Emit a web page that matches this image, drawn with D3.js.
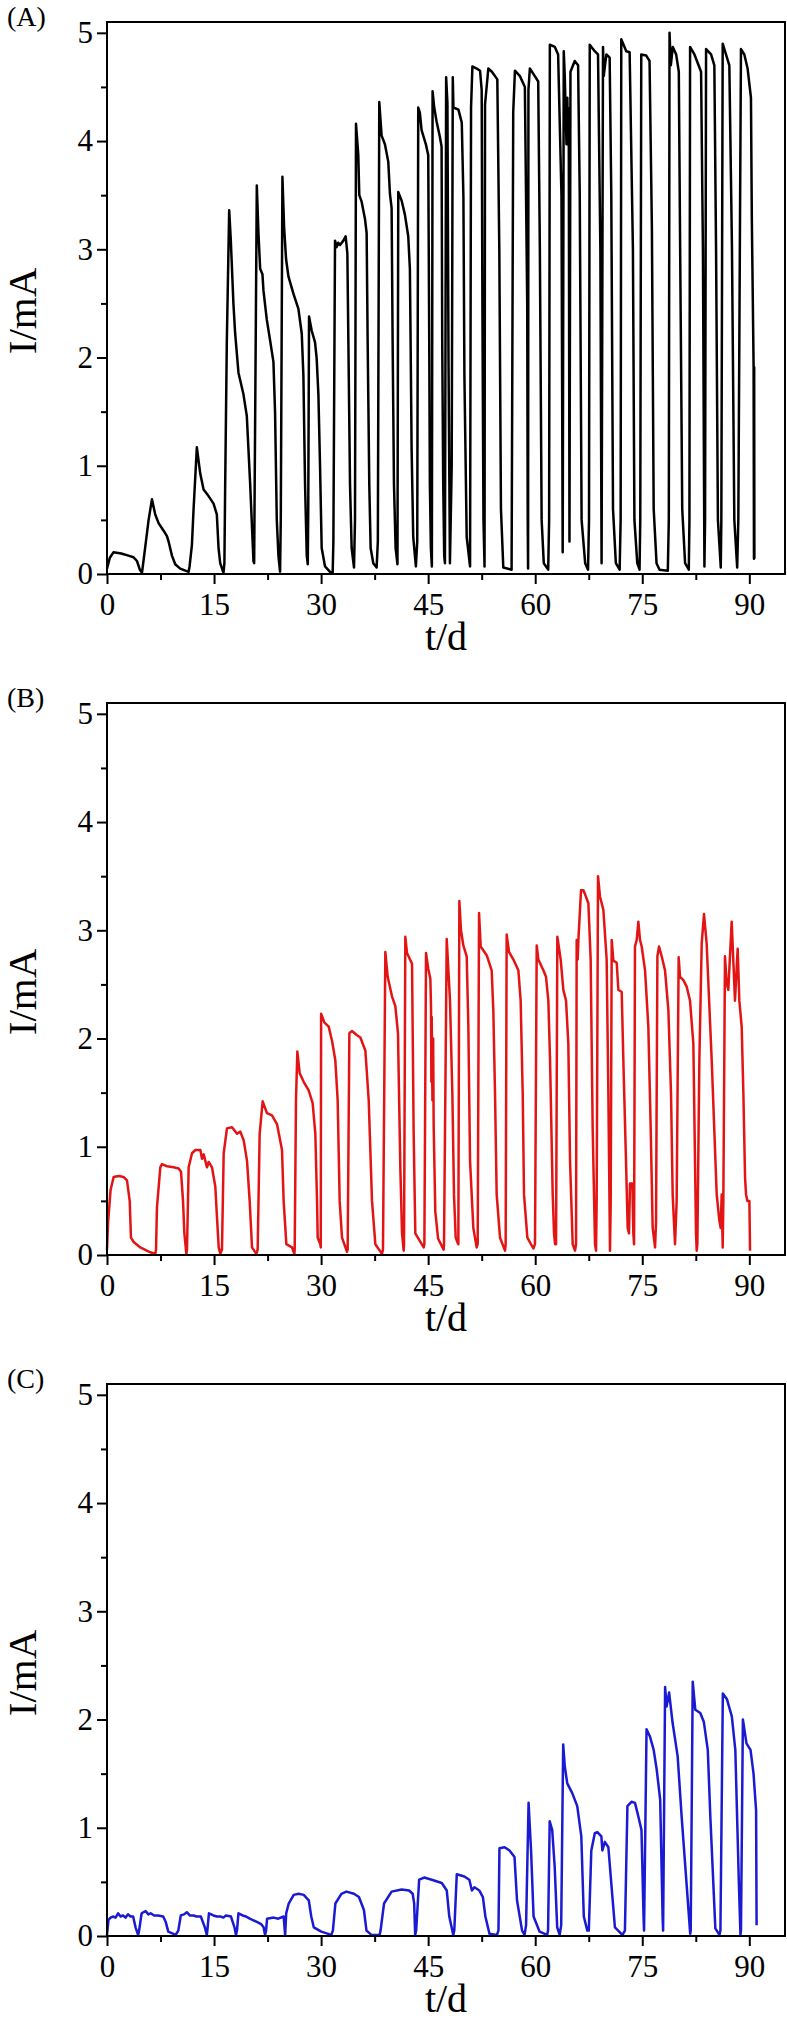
<!DOCTYPE html>
<html>
<head>
<meta charset="utf-8">
<script src="https://cdn.jsdelivr.net/npm/d3@7"></script>
<style>
body { margin: 0; background: #fff; }
</style>
</head>
<body>
<div class="board"></div>
<script>
// labels, colours and ticks
var panelNames = ['(A)', '(B)', '(C)'];
var lineColors = ['#000000', '#e31414', '#1a1ad2'];
var xTicks = [0, 15, 30, 45, 60, 75, 90];
var xMinor = [7.5, 22.5, 37.5, 52.5, 67.5, 82.5];
var yTicks = [0, 1, 2, 3, 4, 5];
var yMinor = [0.5, 1.5, 2.5, 3.5, 4.5];

// current vs time: [t (d), I (mA)]
var pointsA = [
  [0,0.05],[0.4,0.15],[0.9,0.2],[2,0.19],[3,0.17],[3.7,0.155],[4.2,0.12],[4.6,0.04],[4.9,0.01],
  [5.36,0.25],[5.83,0.5],[6.3,0.69],[6.76,0.55],[7.23,0.47],[7.93,0.4],[8.4,0.35],[8.63,0.3],[9.1,0.17],[9.56,0.09],[10.26,0.05],[11.43,0.02],
  [11.57,0.07],[11.9,0.27],[12.13,0.6],[12.59,1.17],[13.06,0.93],[13.53,0.78],[14.23,0.72],[14.93,0.65],[15.39,0.55],[15.63,0.24],[15.86,0.1],[16.32,0.01],
  [16.45,0.1],[16.56,0.83],[16.79,2.15],[17.12,3.36],[17.35,3.08],[17.72,2.49],[17.96,2.22],[18.42,1.86],[19.12,1.66],[19.59,1.46],[20.06,0.83],[20.52,0.12],[20.62,0.1],
  [20.66,0.5],[20.99,3.59],[21.22,3.15],[21.46,2.82],[21.78,2.77],[21.92,2.62],[22.39,2.35],[22.85,2.16],[23.32,1.96],[23.55,1.49],[23.79,0.5],[24.02,0.17],[24.25,0.02],
  [24.35,0.5],[24.58,3.67],[24.81,3.21],[25.09,2.91],[25.42,2.75],[26.12,2.59],[26.82,2.45],[27.29,2.22],[27.52,1.83],[27.75,0.83],[27.99,0.17],[28.13,0.09],
  [28.2,0.6],[28.31,2.38],[28.68,2.25],[29.15,2.14],[29.38,1.99],[29.62,1.66],[29.85,1.0],[30.08,0.24],[30.55,0.07],[31.25,0.02],[31.62,0.01],
  [31.72,0.3],[31.95,3.08],[32.18,3.02],[32.4,3.06],[32.65,3.04],[33.12,3.08],[33.44,3.12],[33.68,2.96],[33.82,2.15],[34.05,0.83],[34.28,0.24],[34.61,0.06],
  [34.75,0.5],[34.89,4.16],[35.21,3.87],[35.35,3.5],[35.68,3.44],[36.15,3.28],[36.38,3.15],[36.52,2.16],[36.75,0.83],[36.94,0.24],[37.31,0.1],[37.78,0.06],
  [37.95,0.3],[38.15,4.36],[38.48,4.05],[38.94,3.97],[39.41,3.81],[39.65,3.51],[39.88,3.38],[40.02,2.16],[40.21,0.83],[40.44,0.24],[40.7,0.09],
  [40.81,3.53],[41.28,3.45],[41.74,3.32],[42.21,3.12],[42.44,2.82],[42.54,2.16],[42.68,1.16],[42.91,0.34],[43.28,0.07],
  [43.47,0.3],[43.61,4.31],[43.84,4.26],[44.08,4.1],[44.68,3.97],[45.01,3.87],[45.15,2.16],[45.24,0.83],[45.38,0.24],[45.52,0.07],
  [45.62,4.46],[45.85,4.31],[46.18,4.18],[46.64,4.04],[46.88,3.95],[46.97,2.16],[47.11,0.83],[47.25,0.17],
  [47.35,0.1],[47.52,4.59],[47.7,4.35],[47.85,2.0],[48.05,0.1],
  [48.3,1.0],[48.45,4.59],[48.54,4.31],[49.24,4.29],[49.71,4.17],[49.94,3.48],[50.08,1.83],[50.4,0.34],[50.87,0.07],
  [51.01,4.31],[51.2,4.69],[51.8,4.67],[52.27,4.65],[52.5,4.47],[52.6,2.5],[52.75,0.5],[52.9,0.07],
  [52.97,4.34],[53.43,4.67],[53.93,4.64],[54.69,4.57],[54.97,3.0],[55.2,0.6],[55.53,0.06],[56.69,0.04],
  [56.92,4.27],[57.16,4.65],[57.86,4.6],[58.55,4.5],[58.88,2.5],[58.95,0.5],[59.0,0.05],
  [59.05,4.47],[59.25,4.67],[59.95,4.6],[60.42,4.55],[60.65,3.0],[60.9,0.5],[61.2,0.1],[61.82,0.04],
  [61.95,0.5],[62.05,4.89],[62.75,4.87],[63.21,4.8],[63.68,3.5],[63.85,0.2],
  [64.0,4.83],[64.14,4.6],[64.38,3.97],[64.5,4.4],[64.6,3.97],[64.7,4.3],[64.8,0.3],
  [64.94,4.64],[65.54,4.74],[66.01,4.7],[66.24,3.5],[66.5,0.5],[67.0,0.1],[67.4,0.04],
  [67.54,0.5],[67.64,4.89],[68.34,4.83],[68.8,4.8],[69.13,3.0],[69.3,0.1],
  [69.5,4.87],[69.6,4.6],[69.97,4.8],[70.43,4.77],[70.66,3.5],[70.9,0.6],[71.3,0.1],[71.83,0.04],
  [71.97,0.5],[72.06,4.94],[72.76,4.83],[73.23,4.82],[73.69,3.0],[73.9,0.5],[74.3,0.1],[74.62,0.04],
  [74.72,0.5],[74.86,4.8],[75.56,4.79],[76.02,4.74],[76.35,3.2],[76.6,0.6],[77.0,0.1],[77.42,0.04],[78.58,0.03],
  [78.72,0.5],[78.82,5.0],[79.0,4.7],[79.28,4.87],[79.75,4.8],[80.12,4.64],[80.31,3.0],[80.6,0.6],[81.0,0.1],[81.52,0.04],
  [81.61,0.5],[81.7,4.87],[82.31,4.8],[83.24,4.64],[83.5,3.0],[83.71,0.07],
  [83.8,0.5],[83.94,4.85],[84.64,4.8],[85.1,4.7],[85.34,3.0],[85.6,0.5],[86.0,0.06],
  [86.08,0.5],[86.27,4.9],[86.73,4.8],[87.2,4.7],[87.57,3.0],[87.9,0.5],[88.3,0.06],
  [88.46,0.5],[88.83,4.85],[89.3,4.8],[89.76,4.67],[90.23,4.4],[90.35,3.3],[90.6,1.91],[90.65,0.14],[90.68,1.91],[90.71,0.14]
];

var pointsB = [
  [0,0.05],[0.15,0.3],[0.5,0.6],[0.93,0.72],[1.63,0.73],[2.34,0.72],[2.8,0.69],[3.18,0.5],[3.36,0.16],[3.74,0.12],[4.67,0.07],[6.07,0.025],[6.77,0.01],
  [6.87,0.05],[7.0,0.44],[7.47,0.81],[7.71,0.84],[8.41,0.82],[9.34,0.81],[10.04,0.8],[10.37,0.77],[10.65,0.5],[10.84,0.2],[11.12,0.01],
  [11.21,0.05],[11.44,0.81],[11.91,0.94],[12.38,0.97],[13.08,0.97],[13.31,0.89],[13.55,0.93],[14.01,0.81],[14.25,0.86],[14.71,0.81],[15.18,0.63],[15.41,0.35],[15.65,0.07],[15.88,0.01],
  [16.11,0.05],[16.35,0.94],[16.81,1.17],[17.52,1.18],[18.22,1.12],[18.68,1.14],[19.15,1.06],[19.62,0.87],[19.99,0.5],[20.32,0.07],[20.92,0.01],
  [21.11,0.05],[21.39,1.12],[21.81,1.42],[22.42,1.31],[23.12,1.29],[23.82,1.21],[24.52,0.97],[24.75,0.5],[25.13,0.1],[25.92,0.07],[26.25,0.01],
  [26.3,0.05],[26.48,1.43],[26.67,1.88],[27.0,1.68],[27.56,1.6],[28.26,1.52],[28.82,1.4],[29.19,1.12],[29.43,0.5],[29.52,0.16],[29.89,0.1],[29.95,0.07],
  [30.0,2.23],[30.45,2.15],[31.06,2.11],[31.53,1.98],[31.99,1.8],[32.32,1.43],[32.6,0.5],[32.93,0.16],[33.63,0.03],
  [33.72,0.05],[33.96,2.05],[34.33,2.07],[35.03,2.03],[35.5,2.01],[36.2,1.89],[36.67,1.43],[37.13,0.5],[37.6,0.1],[38.53,0.01],
  [38.67,0.05],[39.0,2.8],[39.33,2.57],[39.93,2.39],[40.4,2.3],[40.77,2.05],[41.1,0.81],[41.34,0.2],[41.57,0.04],
  [41.62,0.1],[41.8,2.94],[42.04,2.79],[42.74,2.69],[42.97,1.12],[43.2,0.2],[44.37,0.07],
  [44.47,0.1],[44.7,2.79],[45.0,2.65],[45.31,2.55],[45.4,2.29],[45.45,1.6],[45.5,2.2],[45.6,1.43],[45.7,2.0],[45.77,1.2],[46.0,0.4],[46.4,0.15],[47.17,0.05],
  [47.22,0.1],[47.6,2.92],[48.06,2.35],[48.39,1.49],[48.62,0.56],[48.86,0.16],[49.2,0.1],
  [49.23,0.1],[49.37,3.27],[49.6,3.0],[49.93,2.86],[50.4,2.76],[50.63,2.12],[50.87,0.87],[51.33,0.25],[51.8,0.07],
  [51.94,0.1],[52.13,3.16],[52.36,2.85],[53.2,2.77],[53.9,2.63],[54.13,2.26],[54.37,1.49],[54.6,0.56],[55.07,0.16],[55.77,0.04],
  [55.86,0.1],[56.0,2.96],[56.33,2.8],[56.94,2.73],[57.64,2.63],[57.96,2.35],[58.25,1.49],[58.43,0.56],[58.9,0.16],[59.74,0.06],
  [59.97,0.1],[60.21,2.86],[60.44,2.73],[61.14,2.63],[61.51,2.57],[61.84,2.35],[62.08,1.8],[62.45,0.56],[62.64,0.2],[62.78,0.1],
  [62.92,0.1],[63.1,2.94],[63.57,2.73],[63.94,2.45],[64.32,2.35],[64.64,1.95],[64.88,0.87],[65.25,0.1],[65.58,0.04],
  [65.72,0.1],[65.81,2.91],[65.95,2.73],[66.05,2.91],[66.42,3.37],[66.75,3.37],[67.0,3.33],[67.45,3.25],[67.77,2.73],[68.05,1.18],[68.38,0.1],[68.52,0.04],
  [68.61,0.5],[68.8,3.5],[69.08,3.31],[69.55,3.19],[70.01,2.73],[70.25,1.49],[70.48,0.04],
  [70.58,0.5],[70.72,2.91],[70.95,2.72],[71.42,2.7],[71.65,2.45],[72.12,2.43],[72.35,1.8],[72.72,0.87],[72.96,0.25],[73.14,0.2],[73.28,0.66],[73.61,0.66],[73.75,0.2],[73.85,0.1],
  [73.98,2.85],[74.22,2.91],[74.45,3.08],[74.69,2.91],[74.92,2.85],[75.39,2.63],[75.85,2.11],[76.18,1.18],[76.46,0.25],[76.79,0.07],
  [76.93,0.3],[77.12,2.76],[77.35,2.85],[77.72,2.76],[78.19,2.63],[78.66,2.26],[79.03,1.49],[79.26,0.56],[79.59,0.1],
  [79.82,0.5],[80.1,2.75],[80.29,2.57],[80.76,2.54],[81.22,2.48],[81.69,2.35],[82.16,1.95],[82.39,0.87],[82.53,0.2],[82.63,0.04],
  [82.72,0.1],[83.0,1.8],[83.33,2.88],[83.65,3.15],[84.02,2.88],[84.73,1.8],[85.43,0.56],[85.8,0.32],[85.99,0.25],[86.13,0.56],[86.27,0.07],
  [86.36,0.5],[86.59,2.76],[86.83,2.51],[87.06,2.45],[87.29,2.76],[87.53,3.08],[87.99,2.35],[88.37,2.83],[88.6,2.35],[88.93,2.11],[89.17,1.49],[89.4,0.72],[89.54,0.56],[89.73,0.5],[90.01,0.5],[90.1,0.04]
];

var pointsC = [
  [0,0.01],[0.21,0.15],[0.5,0.17],[0.84,0.18],[1.2,0.17],[1.55,0.21],[1.9,0.18],[2.25,0.19],[2.6,0.17],[2.95,0.2],[3.3,0.18],[3.66,0.18],[4.0,0.08],[4.36,0.01],
  [4.5,0.05],[4.85,0.21],[5.41,0.23],[5.8,0.2],[6.12,0.21],[6.6,0.19],[7.17,0.19],[7.88,0.18],[8.23,0.13],[8.58,0.04],[9.63,0.01],
  [9.99,0.05],[10.34,0.19],[10.8,0.2],[11.18,0.22],[11.6,0.19],[12.1,0.19],[12.6,0.18],[13.15,0.18],[13.71,0.08],[13.99,0.01],
  [14.06,0.05],[14.28,0.21],[14.91,0.19],[15.4,0.18],[15.96,0.18],[16.3,0.17],[16.67,0.19],[17.37,0.18],[17.86,0.08],[18.07,0.01],
  [18.21,0.05],[18.42,0.21],[19.0,0.19],[19.48,0.18],[20.0,0.16],[20.53,0.145],[21.0,0.13],[21.59,0.11],[21.94,0.08],[22.15,0.01],
  [22.29,0.05],[22.43,0.16],[23.35,0.17],[24.0,0.16],[24.75,0.18],[24.96,0.01],
  [25.11,0.21],[25.46,0.3],[26.16,0.38],[26.86,0.39],[27.57,0.38],[28.27,0.33],[28.62,0.18],[28.97,0.08],[30.03,0.04],[31.43,0.01],
  [31.65,0.05],[32.0,0.3],[32.84,0.39],[33.54,0.41],[34.6,0.39],[35.3,0.36],[36.0,0.24],[36.36,0.05],[37.06,0.01],[38.2,0.01],
  [38.33,0.05],[38.82,0.3],[39.87,0.41],[41.28,0.43],[42.33,0.42],[42.83,0.39],[43.04,0.3],[43.18,0.01],
  [43.32,0.05],[43.74,0.52],[44.44,0.54],[45.5,0.52],[46.91,0.49],[47.61,0.42],[47.96,0.18],[48.52,0.01],
  [48.66,0.05],[49.01,0.57],[50.07,0.55],[50.77,0.52],[51.13,0.42],[51.48,0.45],[52.18,0.42],[52.67,0.36],[53.02,0.18],[53.59,0.02],[54.64,0.01],
  [54.85,0.05],[54.99,0.81],[55.7,0.82],[56.4,0.79],[57.1,0.73],[57.45,0.33],[58.16,0.05],[58.51,0.01],
  [58.72,0.1],[59.07,1.23],[59.42,0.79],[59.77,0.18],[60.62,0.04],[61.67,0.01],
  [61.8,0.05],[62.03,1.06],[62.38,0.98],[62.73,0.64],[63.08,0.08],[63.43,0.01],
  [63.64,0.1],[63.92,1.77],[64.14,1.57],[64.49,1.41],[65.19,1.32],[65.89,1.2],[66.46,0.92],[66.81,0.18],[67.3,0.05],
  [67.51,0.05],[67.86,0.79],[68.35,0.95],[68.71,0.96],[69.27,0.92],[69.41,0.79],[69.76,0.87],[70.25,0.82],[70.67,0.48],[71.17,0.08],[72.22,0.01],
  [72.57,0.05],[72.92,1.2],[73.49,1.24],[73.98,1.23],[74.47,1.1],[74.89,0.98],[75.18,0.18],
  [75.25,0.05],[75.6,1.91],[76.09,1.84],[76.6,1.72],[77.02,1.54],[77.51,1.26],[77.85,0.18],
  [77.92,0.05],[78.2,2.3],[78.41,2.12],[78.76,2.25],[79.25,1.97],[79.96,1.66],[80.52,1.1],[81.72,0.02],
  [81.79,0.05],[82.07,2.35],[82.43,2.09],[83.13,2.06],[83.62,1.98],[84.18,1.72],[84.54,1.1],[85.24,0.07],[85.81,0.01],
  [85.95,0.05],[86.29,2.24],[86.85,2.19],[87.55,2.03],[88.04,1.72],[88.54,0.48],[88.76,0.01],
  [88.83,0.05],[89.1,2.0],[89.6,1.78],[90.17,1.72],[90.59,1.5],[90.95,1.16],[91.02,0.1]
];

var allPoints = [pointsA, pointsB, pointsC];

var font = "'Liberation Serif', 'Times New Roman', serif";

// the page
var svg = d3.select('.board')
  .append('svg')
  .attr('width', 787)
  .attr('height', 2020)
  .style('background-color', '#fff');

var x = d3.scaleLinear().domain([0, 95]).range([107, 785]);

// panel frame tops, each frame is the same height
var tops = [22, 703, 1384];
var frameH = 552;

var drawPanel = function(points, i) {
  var top = tops[i];
  var bottom = top + frameH;
  var y = d3.scaleLinear().domain([0, 5.1]).range([bottom, top]);
  var g = svg.append('g');

  // minor ticks first
  g.append('g')
    .attr('transform', 'translate(0,' + bottom + ')')
    .call(d3.axisBottom(x).tickValues(xMinor).tickSize(6).tickSizeOuter(0).tickFormat(''))
    .call(function(a) { a.select('.domain').remove(); });

  g.append('g')
    .attr('transform', 'translate(107,0)')
    .call(d3.axisLeft(y).tickValues(yMinor).tickSize(6).tickSizeOuter(0).tickFormat(''))
    .call(function(a) { a.select('.domain').remove(); });

  // major ticks with labels
  g.append('g')
    .attr('transform', 'translate(0,' + bottom + ')')
    .call(d3.axisBottom(x).tickValues(xTicks).tickSize(10).tickSizeOuter(0).tickPadding(9).tickFormat(d3.format('d')))
    .call(function(a) { a.select('.domain').remove(); });

  g.append('g')
    .attr('transform', 'translate(107,0)')
    .call(d3.axisLeft(y).tickValues(yTicks).tickSize(10).tickSizeOuter(0).tickPadding(4).tickFormat(d3.format('d')))
    .call(function(a) { a.select('.domain').remove(); });

  g.selectAll('.tick line').attr('stroke', '#000').attr('stroke-width', 2);
  g.selectAll('.tick text')
    .attr('font-family', font)
    .attr('font-size', 31)
    .attr('fill', '#000');

  // the curve
  var line = d3.line()
    .x(function(d) { return x(d[0]); })
    .y(function(d) { return y(d[1]); });

  g.append('path')
    .datum(points)
    .attr('d', line)
    .attr('fill', 'none')
    .attr('stroke', lineColors[i])
    .attr('stroke-width', 2.5)
    .attr('stroke-linejoin', 'round');

  // frame
  g.append('rect')
    .attr('x', x(0))
    .attr('y', top)
    .attr('width', x(95) - x(0))
    .attr('height', frameH)
    .attr('fill', 'none')
    .attr('stroke', '#000')
    .attr('stroke-width', 2);

  // axis titles and panel name
  g.append('text')
    .attr('transform', 'translate(36,' + (top + frameH / 2 + 13) + ') rotate(-90)')
    .attr('text-anchor', 'middle')
    .attr('font-family', font)
    .attr('font-size', 41)
    .text('I/mA');

  g.append('text')
    .attr('x', (x(0) + x(95)) / 2)
    .attr('y', bottom + 76)
    .attr('text-anchor', 'middle')
    .attr('font-family', font)
    .attr('font-size', 40)
    .text('t/d');

  g.append('text')
    .attr('x', 7)
    .attr('y', top + 4)
    .attr('font-family', font)
    .attr('font-size', 28)
    .text(panelNames[i]);
};

allPoints.forEach(function(p, i) { drawPanel(p, i); });
</script>
</body>
</html>
